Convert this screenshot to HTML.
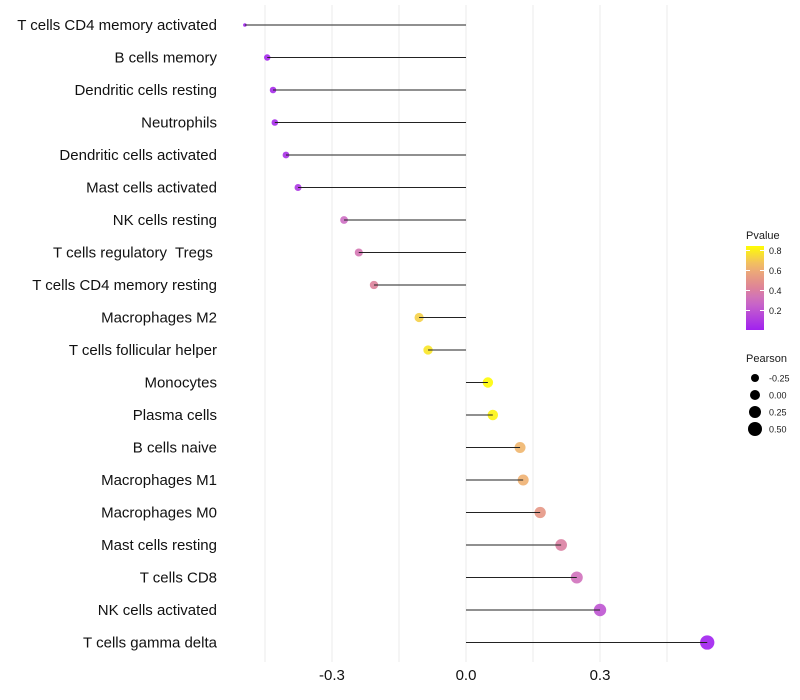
<!DOCTYPE html>
<html><head><meta charset="utf-8"><style>
body{margin:0;background:#fff;}
svg{display:block;font-family:"Liberation Sans",sans-serif;}
</style></head><body>
<svg id="chart" width="800" height="700"></svg>
<script>
const categories=["T cells CD4 memory activated","B cells memory","Dendritic cells resting","Neutrophils","Dendritic cells activated","Mast cells activated","NK cells resting","T cells regulatory  Tregs ","T cells CD4 memory resting","Macrophages M2","T cells follicular helper","Monocytes","Plasma cells","B cells naive","Macrophages M1","Macrophages M0","Mast cells resting","T cells CD8","NK cells activated","T cells gamma delta"];
const pearson=[-0.495,-0.445,-0.432,-0.428,-0.403,-0.376,-0.273,-0.240,-0.206,-0.105,-0.085,0.049,0.060,0.121,0.128,0.166,0.213,0.248,0.300,0.540];
const pvalue=[0.01,0.03,0.04,0.04,0.06,0.09,0.30,0.35,0.42,0.72,0.78,0.84,0.82,0.65,0.63,0.52,0.40,0.32,0.20,0.005];
const xTicks=[-0.3,0.0,0.3];
const xTickLabels=["-0.3","0.0","0.3"];
const gridVals=[-0.45,-0.3,-0.15,0,0.15,0.3,0.45];
const pLegend=[0.2,0.4,0.6,0.8];
const sizeLegend=[-0.25,0.00,0.25,0.50];
const sizeLegendLabels=["-0.25","0.00","0.25","0.50"];

const NS="http://www.w3.org/2000/svg";
const svg=document.getElementById('chart');
function mk(t,a,parent){const e=document.createElementNS(NS,t);for(const k in a)e.setAttribute(k,a[k]);(parent||svg).appendChild(e);return e;}
const x=v=>466+v*446.7;
const y=i=>25+i*32.5;
const r=v=>v<-0.48?1.8:Math.max(2.5,5+4*v);
function lerp(a,b,t){return a.map((c,i)=>Math.round(c+(b[i]-c)*t));}
const stops=[[0,[160,32,240]],[0.3,[205,110,195]],[0.45,[225,135,145]],[0.65,[240,182,110]],[0.85,[255,255,0]]];
function col(p){p=Math.max(0,Math.min(0.85,p));for(let i=0;i<stops.length-1;i++){if(p<=stops[i+1][0]){const t=(p-stops[i][0])/(stops[i+1][0]-stops[i][0]);const c=lerp(stops[i][1],stops[i+1][1],t);return `rgb(${c})`;}}return 'rgb(255,255,0)';}

gridVals.forEach(v=>{const g=mk('line',{x1:x(v),x2:x(v),y1:5,y2:662,stroke:'#ebebeb','stroke-width':1});

});

categories.forEach((c,i)=>{
  const t=mk('text',{x:217,y:y(i)+5,'text-anchor':'end','font-size':15,fill:'#111','xml:space':'preserve'});t.textContent=c;
  t.style.whiteSpace='pre';
  
  
  const pt=mk('circle',{cx:x(pearson[i]),cy:y(i),r:r(pearson[i]),fill:col(pvalue[i]),'fill-opacity':0.9});
  
  
  const ln=mk('line',{x1:x(0),x2:x(pearson[i]),y1:y(i),y2:y(i),stroke:'#222','stroke-width':1});
  
  
});
xTicks.forEach((v,i)=>{const t=mk('text',{x:x(v),y:680,'text-anchor':'middle','font-size':15,fill:'#111'});t.textContent=xTickLabels[i];

});

const lt=mk('text',{x:746,y:239,'font-size':11,fill:'#1a1a1a'});lt.textContent='Pvalue';


const defs=mk('defs',{});const lg=mk('linearGradient',{id:'pg',x1:0,y1:1,x2:0,y2:0},defs);
[0,0.1,0.2,0.3,0.4,0.5,0.6,0.7,0.8,0.9,1].forEach(f=>mk('stop',{offset:f,'stop-color':col(0.005+f*0.84)},lg));
const bar=mk('rect',{x:746,y:246,width:18,height:84,fill:'url(#pg)'});


const py=p=>330-(p-0.005)*100;
pLegend.forEach(p=>{mk('line',{x1:746,x2:750,y1:py(p),y2:py(p),stroke:'#fff'});mk('line',{x1:760,x2:764,y1:py(p),y2:py(p),stroke:'#fff'});
const t=mk('text',{x:769,y:py(p)+3.5,'font-size':9,fill:'#1a1a1a'});t.textContent=p.toFixed(1);

});

const st=mk('text',{x:746,y:362,'font-size':11,fill:'#1a1a1a'});st.textContent='Pearson';


sizeLegend.forEach((v,i)=>{const cy=378+i*17;const c=mk('circle',{cx:755,cy:cy,r:r(v),fill:'#000'});


const t=mk('text',{x:769,y:cy+3.5,'font-size':9,fill:'#1a1a1a'});t.textContent=sizeLegendLabels[i];

});
</script>
</body></html>
